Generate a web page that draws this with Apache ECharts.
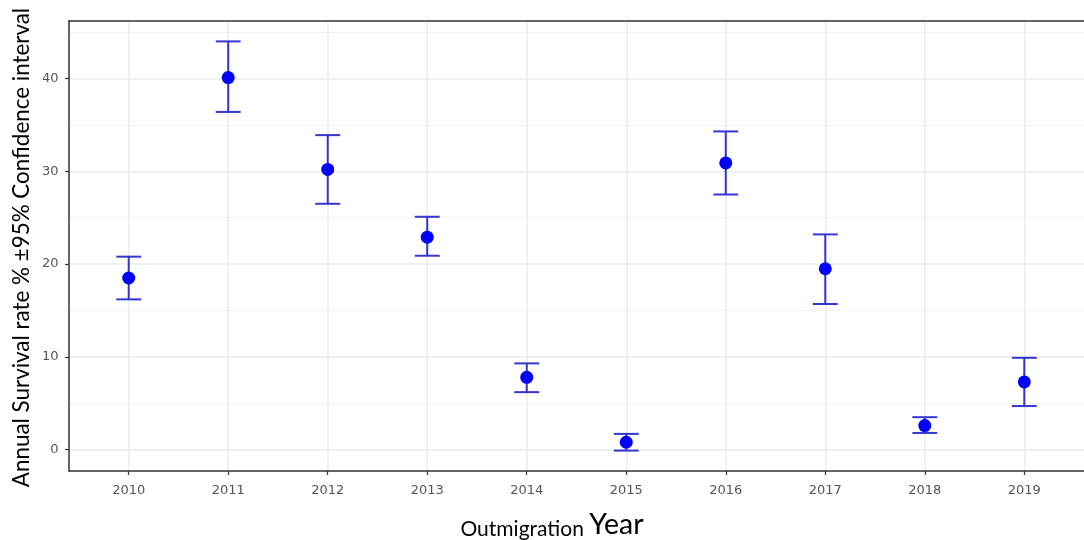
<!DOCTYPE html>
<html>
<head>
<meta charset="utf-8">
<script src="https://cdn.jsdelivr.net/npm/echarts@6/dist/echarts.min.js"></script>
<style>
  html, body { margin: 0; padding: 0; background: #fff; }
  #chart { width: 1084px; height: 540px; }
</style>
</head>
<body>
<div id="chart"></div>
<script>
// Outmigration years and annual survival estimates (%) with 95% CI bounds
const years = [2010, 2011, 2012, 2013, 2014, 2015, 2016, 2017, 2018, 2019];
const survival = [18.5, 40.1, 30.2, 22.9, 7.8, 0.8, 30.9, 19.5, 2.6, 7.3];
const lowerCI = [16.2, 36.4, 26.5, 20.9, 6.2, -0.1, 27.5, 15.7, 1.8, 4.7];
const upperCI = [20.8, 44.0, 33.9, 25.1, 9.3, 1.7, 34.3, 23.2, 3.5, 9.9];
const yMajorTicks = [0, 10, 20, 30, 40];
const yMinorTicks = [5, 15, 25, 35, 45];

const chart = echarts.init(document.getElementById('chart'), null, { renderer: 'canvas' });

const tickLabelStyle = { color: '#555555', fontFamily: 'DejaVu Sans', fontSize: 13 };
const borderColor = '#333333';

const points = years.map((y, i) => [y, survival[i]]);
const bars = years.map((y, i) => [y, lowerCI[i], upperCI[i]]);

chart.setOption({
  animation: false,
  backgroundColor: '#ffffff',
  grid: { left: 69, top: 21, width: 1023, height: 450, containLabel: false },
  xAxis: [{
    type: 'value',
    min: 2009.4,
    max: 2019.6,
    axisLine: { show: true, onZero: false, lineStyle: { color: borderColor, width: 1.5 } },
    axisTick: { show: true, customValues: years, length: 4, lineStyle: { color: borderColor, width: 1.2 } },
    axisLabel: { customValues: years, margin: 13, formatter: v => String(v), ...tickLabelStyle },
    splitLine: { show: true, lineStyle: { color: '#ebebeb', width: 1.5 } }
  }, {
    // top edge of the panel border
    type: 'value', position: 'top', min: 2009.4, max: 2019.6,
    axisLine: { show: true, onZero: false, lineStyle: { color: borderColor, width: 1.5 } },
    axisTick: { show: false }, axisLabel: { show: false }, splitLine: { show: false }
  }],
  yAxis: [{
    type: 'value',
    min: -2.3,
    max: 46.2,
    axisLine: { show: true, onZero: false, lineStyle: { color: borderColor, width: 1.5 } },
    axisTick: { show: true, customValues: yMajorTicks, length: 4, lineStyle: { color: borderColor, width: 1.2 } },
    axisLabel: { customValues: yMajorTicks, margin: 10.5, ...tickLabelStyle },
    splitLine: { show: true, lineStyle: { color: '#ebebeb', width: 1.5 } }
  }, {
    // minor horizontal grid lines
    type: 'value',
    min: -2.3,
    max: 46.2,
    position: 'left',
    axisLine: { show: false },
    axisTick: { show: false, customValues: yMinorTicks },
    axisLabel: { show: false, customValues: yMinorTicks },
    splitLine: { show: true, lineStyle: { color: '#f3f3f3', width: 1 } }
  }],
  graphic: [{
    type: 'text',
    x: 21.5, y: 247.5,
    rotation: Math.PI / 2,
    style: {
      text: 'Annual Survival rate % \u00b195% Confidence interval',
      fontFamily: 'Lato', fontSize: 22.4, fill: '#000',
      align: 'center', verticalAlign: 'middle'
    }
  }, {
    type: 'text',
    x: 552, y: 525,
    style: {
      rich: {
        a: { fontFamily: 'Lato', fontSize: 21, fill: '#000', verticalAlign: 'bottom' },
        b: { fontFamily: 'Lato', fontSize: 28.5, fill: '#000', verticalAlign: 'bottom' }
      },
      text: '{a|Outmigration }{b|Year}',
      align: 'center', verticalAlign: 'middle'
    }
  }],
  series: [{
    type: 'custom',
    name: 'CI',
    xAxisIndex: 0, yAxisIndex: 0,
    data: bars,
    encode: { x: 0, y: [1, 2] },
    renderItem: function (params, api) {
      const x = api.value(0);
      const lo = api.coord([x, api.value(1)]);
      const hi = api.coord([x, api.value(2)]);
      const capL = api.coord([x - 0.125, 0])[0];
      const capR = api.coord([x + 0.125, 0])[0];
      const style = { stroke: '#3535d0', lineWidth: 2 };
      return {
        type: 'group',
        children: [
          { type: 'line', shape: { x1: lo[0], y1: lo[1], x2: hi[0], y2: hi[1] }, style },
          { type: 'line', shape: { x1: capL, y1: lo[1], x2: capR, y2: lo[1] }, style },
          { type: 'line', shape: { x1: capL, y1: hi[1], x2: capR, y2: hi[1] }, style }
        ]
      };
    },
    z: 2
  }, {
    type: 'scatter',
    name: 'Survival',
    xAxisIndex: 0, yAxisIndex: 0,
    data: points,
    symbol: 'circle',
    symbolSize: 13,
    itemStyle: { color: '#0000ff', opacity: 1 },
    z: 3
  }]
});
</script>
</body>
</html>
